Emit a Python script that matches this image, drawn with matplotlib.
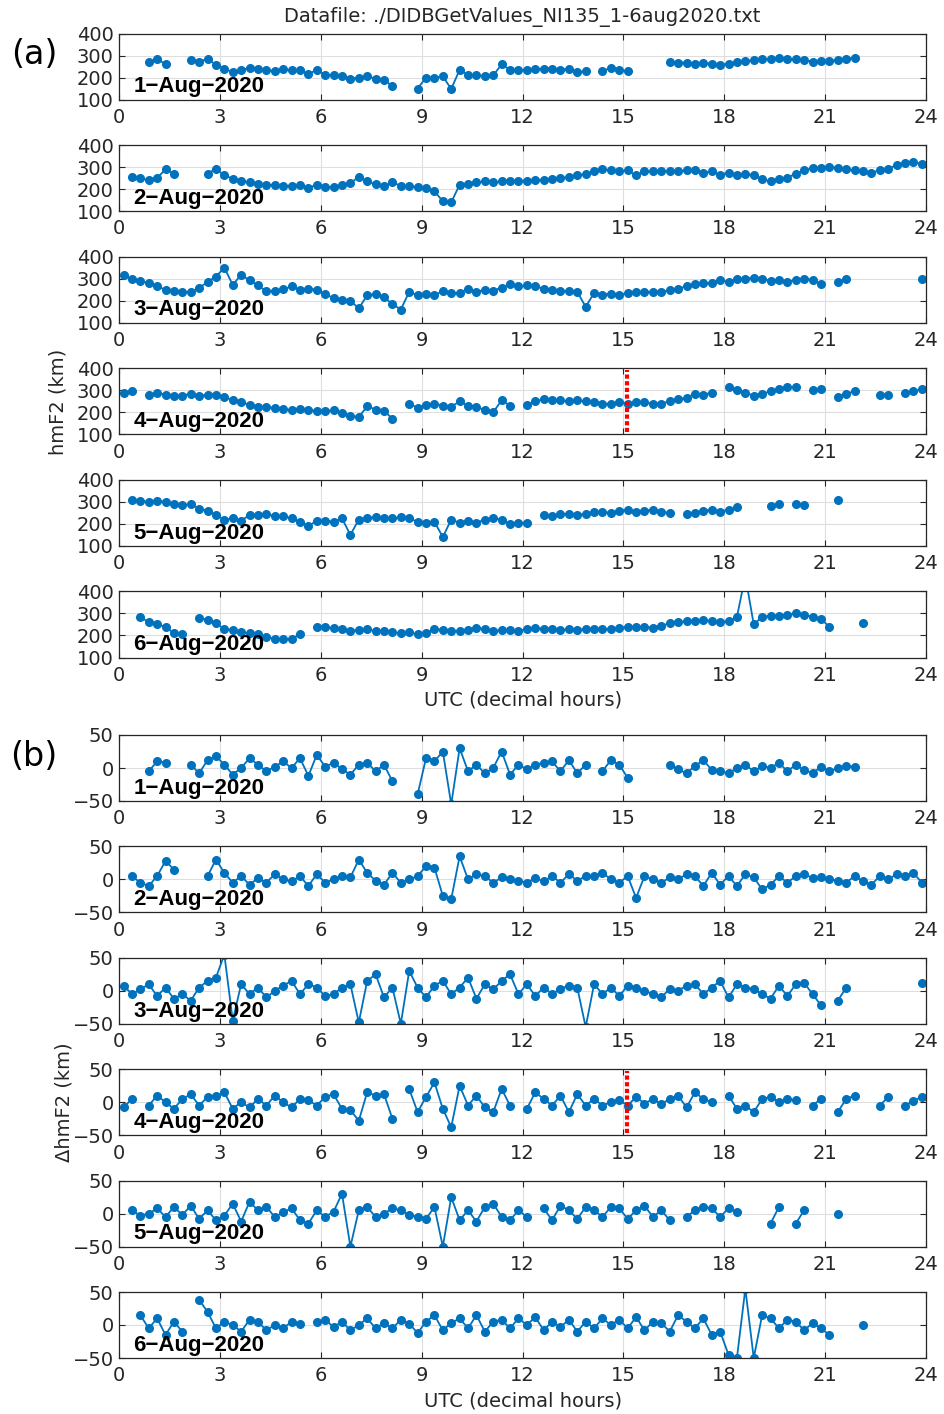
import numpy as np
import matplotlib
matplotlib.use("Agg")
import matplotlib.pyplot as plt

nan = np.nan

# sample times (decimal hours, 15-min bins)
T = 0.125 + 0.25 * np.arange(96)

DAYS = ["1\u2212Aug\u22122020", "2\u2212Aug\u22122020", "3\u2212Aug\u22122020",
        "4\u2212Aug\u22122020", "5\u2212Aug\u22122020", "6\u2212Aug\u22122020"]

# hmF2 (km), one list per day
hm1 = [nan, nan, nan, 270, 285, 260, nan, nan,
       280, 272, 285, 258, 240, 225, 232, 245,
       240, 232, 230, 238, 232, 235, 215, 235,
       212, 212, 205, 195, 200, 205, 195, 190,
       160, nan, nan, 150, 200, 200, 205, 148,
       235, 212, 212, 205, 210, 260, 235, 235,
       232, 238, 240, 240, 235, 240, 225, 228,
       nan, 228, 245, 235, 228, nan, nan, nan,
       nan, 272, 268, 268, 262, 268, 262, 258,
       262, 270, 275, 278, 282, 285, 288, 282,
       285, 280, 272, 275, 275, 280, 285, 290,
       nan, nan, nan, nan, nan, nan, nan, nan]
hm2 = [nan, 255, 250, 240, 250, 290, 270, nan,
       nan, nan, 270, 292, 262, 248, 238, 230,
       225, 218, 220, 215, 215, 218, 205, 220,
       210, 210, 218, 228, 255, 235, 222, 215,
       230, 215, 212, 210, 205, 190, 145, 140,
       220, 222, 230, 235, 230, 235, 235, 238,
       238, 240, 242, 245, 250, 255, 262, 270,
       280, 290, 285, 280, 285, 262, 280, 280,
       280, 282, 282, 285, 285, 275, 280, 265,
       275, 265, 270, 262, 245, 235, 245, 252,
       270, 285, 295, 298, 300, 298, 290, 285,
       280, 275, 285, 292, 310, 318, 325, 312]
hm3 = [315, 300, 290, 280, 265, 250, 245, 240,
       240, 258, 285, 310, 350, 272, 318, 292,
       270, 242, 245, 252, 265, 250, 255, 250,
       230, 212, 205, 200, 165, 225, 230, 215,
       185, 160, 240, 225, 230, 225, 245, 235,
       235, 255, 240, 250, 245, 260, 275, 265,
       270, 265, 255, 250, 245, 242, 240, 172,
       235, 228, 232, 225, 235, 238, 240, 240,
       240, 248, 255, 265, 275, 280, 280, 295,
       285, 300, 300, 305, 300, 290, 295, 285,
       295, 300, 295, 275, nan, 285, 300, nan,
       nan, nan, nan, nan, nan, nan, nan, 300]
hm4 = [290, 295, nan, 280, 290, 280, 275, 275,
       285, 275, 280, 280, 270, 255, 245, 235,
       225, 225, 220, 215, 210, 215, 212, 205,
       205, 210, 195, 185, 178, 228, 212, 208,
       170, nan, 240, 220, 235, 240, 230, 225,
       250, 230, 225, 210, 200, 255, 230, nan,
       235, 250, 260, 255, 255, 250, 255, 250,
       248, 238, 240, 245, 240, 245, 245, 240,
       240, 250, 260, 265, 285, 280, 290, nan,
       315, 300, 290, 275, 285, 295, 305, 315,
       315, nan, 300, 305, nan, 270, 285, 295,
       nan, nan, 280, 280, nan, 290, 295, 305]
hm5 = [nan, 310, 305, 300, 305, 300, 290, 285,
       290, 270, 260, 240, 220, 225, 215, 240,
       240, 245, 235, 235, 225, 210, 190, 215,
       215, 210, 225, 150, 220, 228, 230, 225,
       225, 230, 225, 210, 205, 210, 140, 220,
       205, 215, 205, 220, 225, 220, 200, 205,
       205, nan, 240, 235, 245, 245, 240, 245,
       255, 255, 250, 260, 265, 255, 260, 265,
       255, 250, nan, 245, 250, 260, 265, 255,
       265, 275, nan, nan, nan, 280, 290, nan,
       290, 285, nan, nan, nan, 310, nan, nan,
       nan, nan, nan, nan, nan, nan, nan, nan]
hm6 = [nan, nan, 285, 260, 250, 240, 210, 205,
       nan, 280, 270, 255, 230, 225, 215, 210,
       205, 195, 185, 185, 185, 205, nan, 240,
       240, 232, 228, 222, 225, 228, 220, 222,
       215, 210, 215, 205, 210, 230, 225, 220,
       220, 225, 235, 230, 220, 225, 225, 220,
       230, 235, 230, 230, 225, 228, 225, 230,
       230, 228, 230, 235, 240, 238, 240, 235,
       245, 255, 260, 265, 265, 270, 265, 260,
       265, 285, 470, 250, 285, 290, 290, 295,
       300, 295, 285, 275, 240, nan, nan, nan,
       255, nan, nan, nan, nan, nan, nan, nan]

# delta hmF2 (km)
dh1 = [nan, nan, nan, -5, 10, 8, nan, nan,
       5, -8, 12, 18, 5, -10, 0, 15,
       5, -5, 2, 10, 0, 15, -12, 20,
       2, 8, -2, -10, 5, 8, -5, 5,
       -20, nan, nan, -40, 15, 10, 25, -55,
       30, -5, 5, -8, 0, 25, -10, 5,
       -2, 5, 8, 10, -5, 12, -8, 5,
       nan, -5, 12, 5, -15, nan, nan, nan,
       nan, 5, -2, -8, 3, 12, -3, -5,
       -8, 0, 5, -5, 3, 0, 8, -5,
       5, -3, -8, 2, -5, 0, 3, 2,
       nan, nan, nan, nan, nan, nan, nan, nan]
dh2 = [nan, 5, -5, -10, 5, 28, 15, nan,
       nan, nan, 5, 30, 10, -5, 5, -8,
       2, -5, 8, 0, -3, 5, -10, 8,
       -5, 0, 5, 3, 30, 10, -2, -8,
       10, -5, 0, 5, 20, 18, -25, -30,
       35, 0, 8, 5, -5, 3, 0, -2,
       -5, 2, -3, 5, -5, 8, -2, 5,
       5, 10, 0, -5, 5, -28, 5, 0,
       -5, 3, 0, 8, 5, -10, 10, -8,
       5, -10, 8, 3, -15, -8, 5, -5,
       5, 8, 2, 3, 0, -2, -5, 5,
       -3, -8, 5, 0, 8, 5, 10, -5]
dh3 = [8, -5, 2, 10, -8, 5, -12, -5,
       -15, 5, 15, 20, 55, -45, 10, -5,
       5, -10, 0, 8, 15, -5, 10, 5,
       -8, -5, 5, 10, -48, 15, 25, -10,
       5, -50, 30, 5, -10, 8, 15, -5,
       5, 20, -12, 10, 2, 15, 25, -5,
       10, -8, 5, -5, 3, 8, 5, -55,
       10, -5, 5, -8, 8, 5, 0, -5,
       -10, 3, 0, 8, 10, -5, 5, 15,
       -10, 10, 5, 3, -5, -12, 8, -8,
       10, 12, -5, -22, nan, -15, 5, nan,
       nan, nan, nan, nan, nan, nan, nan, 12]
dh4 = [-8, 5, nan, -5, 10, 0, -10, 5,
       12, -5, 8, 10, 15, -10, 0, -8,
       5, -5, 10, 0, -8, 5, 3, -5,
       8, 12, -10, -12, -28, 15, 10, 12,
       -25, nan, 20, -15, 8, 30, -10, -38,
       25, -5, 10, -8, -15, 20, -5, nan,
       -10, 15, 5, -5, 10, -15, 12, -5,
       5, -5, 0, 3, -5, 8, -2, 5,
       -3, 5, 10, -8, 15, 5, 0, nan,
       10, -10, -5, -15, 5, 8, 0, 5,
       3, nan, -5, 5, nan, -15, 5, 10,
       nan, nan, -5, 8, nan, -5, 2, 8]
dh5 = [nan, 5, -3, 0, 8, -5, 10, -2,
       12, -8, 5, -10, -3, 15, -12, 18,
       5, 10, -5, 2, 8, -10, -15, 5,
       -5, 3, 30, -50, 5, 10, -5, 0,
       8, 5, -2, -5, -8, 10, -50, 25,
       -10, 5, -12, 10, 15, -5, -10, 5,
       -5, nan, 8, -10, 12, 5, -8, 10,
       5, -5, 10, 8, -8, 5, 12, -5,
       5, -10, nan, -5, 5, 10, 8, -5,
       8, 3, nan, nan, nan, -15, 10, nan,
       -15, 5, nan, nan, nan, 0, nan, nan,
       nan, nan, nan, nan, nan, nan, nan, nan]
dh6 = [nan, nan, 15, -5, 10, -15, 5, -10,
       nan, 38, 20, -5, 5, 0, -10, 8,
       5, -8, 0, -5, 5, 2, nan, 5,
       8, -3, 5, -8, 0, 10, -5, 3,
       -5, 8, 2, -12, 5, 15, -8, 3,
       10, -5, 15, -10, 5, 8, -5, 10,
       0, 12, -8, 5, -3, 8, -10, 5,
       -5, 10, 0, 8, -5, 12, -8, 5,
       3, -10, 15, 5, -5, 10, -15, -10,
       -45, -50, 55, -50, 15, 10, -5, 8,
       5, -8, 3, -5, -15, nan, nan, nan,
       0, nan, nan, nan, nan, nan, nan, nan]

HMF2 = [hm1, hm2, hm3, hm4, hm5, hm6]
DHMF2 = [dh1, dh2, dh3, dh4, dh5, dh6]

EVENT_T = 15.1   # marked time on 4-Aug
EVENT_DAY = 3

BLUE = "#0072BD"
W, H = 944, 1414
AX_L, AX_W, AX_H = 119.3, 806.7, 66
TOPS_A = [33.5 + 111.6 * i for i in range(6)]
TOPS_B = [735 + 111.4 * i for i in range(6)]


def make_panel(top, vals, ylim, yticks, day, event):
    ax = fig.add_axes([AX_L / W, 1 - (top + AX_H) / H, AX_W / W, AX_H / H])
    ax.plot(T, vals, "-", marker="o", ms=5.5, lw=1.3, color=BLUE, mec=BLUE)
    if event:
        ax.plot([EVENT_T, EVENT_T], [ylim[0] + 0.03 * (ylim[1] - ylim[0]),
                                     ylim[1] - 0.03 * (ylim[1] - ylim[0])],
                color="red", lw=3, ls=(0, (1, 0.6)))
    ax.set_xlim(0, 24)
    ax.set_ylim(*ylim)
    ax.set_xticks(np.arange(0, 25, 3))
    ax.set_yticks(yticks)
    ax.grid(True, color="#dedede", lw=0.8)
    ax.set_axisbelow(True)
    ax.tick_params(direction="in", top=True, right=True, length=4,
                   labelsize=14, labelcolor="#262626", color="#262626", pad=4)
    ax.tick_params(axis="x", pad=6)
    for s in ax.spines.values():
        s.set_color("#262626")
        s.set_linewidth(0.9)
    ax.text(0.0174, 0.11, day, transform=ax.transAxes, ha="left", va="baseline",
            fontsize=16, fontweight="bold", family=["Liberation Sans", "DejaVu Sans"])
    return ax


fig = plt.figure(figsize=(W / 100, H / 100), dpi=100)

for i in range(6):
    make_panel(TOPS_A[i], HMF2[i], (100, 400), [100, 200, 300, 400], DAYS[i], i == EVENT_DAY)
    make_panel(TOPS_B[i], DHMF2[i], (-50, 50), [-50, 0, 50], DAYS[i], i == EVENT_DAY)

cx = (AX_L + AX_W / 2) / W
fig.text(cx, 1 - 17 / H, "Datafile: ./DIDBGetValues_NI135_1-6aug2020.txt",
         ha="center", va="center", fontsize=14, color="#262626")
fig.text(cx, 1 - 700 / H, "UTC (decimal hours)", ha="center", va="center",
         fontsize=14, color="#262626")
fig.text(cx, 1 - 1401 / H, "UTC (decimal hours)", ha="center", va="center",
         fontsize=14, color="#262626")
fig.text(58 / W, 1 - 402 / H, "hmF2 (km)", rotation=90, ha="center", va="center",
         fontsize=14, color="#262626")
fig.text(64 / W, 1 - 1102 / H, "\u0394hmF2 (km)", rotation=90, ha="center", va="center",
         fontsize=14, color="#262626")
fig.text(34 / W, 1 - 55 / H, "(a)", ha="center", va="center", fontsize=24)
fig.text(34 / W, 1 - 757 / H, "(b)", ha="center", va="center", fontsize=24)

fig.savefig("out.png", dpi=100)
